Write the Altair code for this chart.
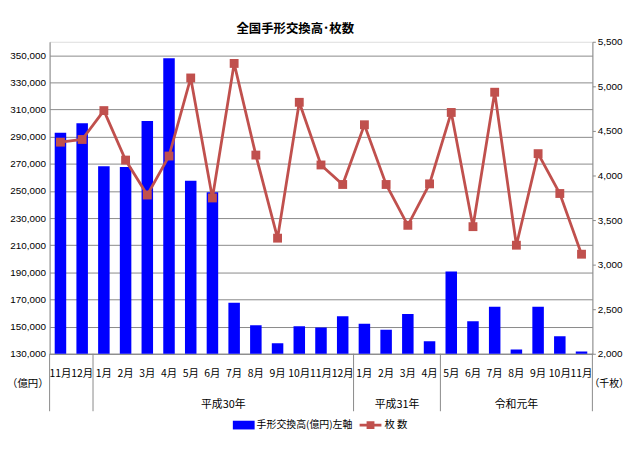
import altair as alt
import pandas as pd

# ---- data ----
months = ["11月", "12月", "1月", "2月", "3月", "4月", "5月", "6月", "7月", "8月", "9月", "10月",
          "11月", "12月", "1月", "2月", "3月", "4月", "5月", "6月", "7月", "8月", "9月", "10月", "11月"]
eras = ["平成29年"] * 2 + ["平成30年"] * 12 + ["平成31年"] * 4 + ["令和元年"] * 7
shown_eras = ["平成30年", "平成31年", "令和元年"]
amount = [293000, 300000, 268300, 267600, 301600, 347800, 257600, 249000, 167600, 151000,
          137800, 150200, 149400, 157600, 152200, 147800, 159300, 139300, 190700, 153900,
          164600, 133200, 164600, 142900, 131700]
count = [4374, 4404, 4728, 4173, 3781, 4218, 5094, 3748, 5257, 4229, 3297, 4821, 4118,
         3899, 4569, 3899, 3441, 3906, 4707, 3426, 4934, 3218, 4245, 3798, 3117]
bar_name = "手形交換高(億円)左軸"
line_name = "枚 数"
title_text = "全国手形交換高･枚数"
left_unit = "（億円）"
right_unit = "（千枚）"
left_ticks = list(range(130000, 350001, 20000))
right_ticks = list(range(2000, 5501, 500))

keys = [f"{i:02d}|{m}" for i, m in enumerate(months)]
df = pd.DataFrame({"key": keys, "amount": amount, "count": count, "era": eras})

# era group helpers
sep_start = [keys[i] for i in range(len(keys)) if i == 0 or eras[i] != eras[i - 1]]
sep_end = [keys[-1]]
yr_start, yr_mid = [], []
for e in shown_eras:
    idx = [i for i, v in enumerate(eras) if v == e]
    n = len(idx)
    if n % 2 == 0:
        yr_start.append({"key": keys[idx[n // 2]], "label": e})
    else:
        yr_mid.append({"key": keys[idx[n // 2]], "label": e})

W, H = 548, 315
JP = "Noto Sans CJK JP"
NUM = "Liberation Sans"
RED = "#C0504D"
BLUE = "#0000FF"
GRID = "#8a8a8a"

xaxis = alt.Axis(title=None, labelAngle=0, labelExpr="split(datum.value, '|')[1]",
                 labelOverlap=False, ticks=False, labelPadding=15, labelFont=JP,
                 labelFontSize=10.5, labelColor="#000", domainColor=GRID)
xscale = alt.Scale(domain=keys, paddingInner=0, paddingOuter=0)


def X(bp=None):
    kw = dict(sort=keys, scale=xscale, axis=xaxis)
    if bp is not None:
        kw["bandPosition"] = bp
    return alt.X("key:N", **kw)


base = alt.Chart(df)

bars = base.mark_bar(width=alt.RelativeBandSize(0.53), clip=True).transform_calculate(
    s=f"'{bar_name}'"
).encode(
    x=X(),
    y=alt.Y("amount:Q", scale=alt.Scale(domain=[130000, 360000], zero=False, nice=False),
            axis=alt.Axis(title=None, values=left_ticks, format=",d", ticks=False,
                          labelPadding=4, labelFont=NUM, labelFontSize=10, labelColor="#000",
                          grid=True, gridColor=GRID, domainColor=GRID)),
    color=alt.Color("s:N", scale=alt.Scale(domain=[bar_name], range=[BLUE]),
                    legend=alt.Legend(title=None, orient="none", legendX=185, legendY=376,
                                      symbolType="M-1,-0.4H1V0.4H-1Z", symbolSize=484,
                                      symbolStrokeWidth=0, symbolOpacity=1,
                                      labelFont=JP, labelFontSize=10, labelColor="#000",
                                      labelOffset=2, padding=0)),
)

yright = alt.Y("count:Q", scale=alt.Scale(domain=[2000, 5500], zero=False, nice=False),
               axis=alt.Axis(title=None, orient="right", values=right_ticks, format=",d",
                             tickSize=3, tickColor=GRID, labelPadding=2, labelFont=NUM,
                             labelFontSize=10, labelColor="#000", grid=False, domainColor=GRID))

line = base.mark_line(color=RED, strokeWidth=2.8).encode(x=X(), y=yright)
pts = base.mark_square(size=80, opacity=1).transform_calculate(s=f"'{line_name}'").encode(
    x=X(), y=yright,
    color=alt.Color("s:N", scale=alt.Scale(domain=[line_name], range=[RED]),
                    legend=alt.Legend(title=None, orient="none", legendX=313, legendY=376,
                                      symbolType="M-1,-0.12H1V0.12H-1Z M-0.36,-0.36H0.36V0.36H-0.36Z",
                                      symbolSize=484, symbolStrokeWidth=0, symbolOpacity=1,
                                      labelFont=JP, labelFontSize=10.5, labelColor="#000",
                                      labelOffset=3, padding=0)),
)
right = alt.layer(line, pts)

rules_s = alt.Chart(pd.DataFrame({"key": sep_start})).mark_rule(color=GRID, strokeWidth=1).encode(
    x=X(0), y=alt.value(H), y2=alt.value(H + 58))
rules_e = alt.Chart(pd.DataFrame({"key": sep_end})).mark_rule(color=GRID, strokeWidth=1).encode(
    x=X(1), y=alt.value(H), y2=alt.value(H + 58))

yr1 = alt.Chart(pd.DataFrame(yr_start)).mark_text(font=JP, fontSize=11, color="#000",
                                                  baseline="middle").encode(
    x=X(0), y=alt.value(H + 52), text="label:N")
yr2 = alt.Chart(pd.DataFrame(yr_mid)).mark_text(font=JP, fontSize=11, color="#000",
                                                baseline="middle").encode(
    x=X(0.5), y=alt.value(H + 52), text="label:N")

u1 = alt.Chart(pd.DataFrame({"t": [left_unit]})).mark_text(font=JP, fontSize=10.5, color="#000",
                                                         baseline="middle").encode(
    x=alt.value(-22), y=alt.value(H + 31), text="t:N")
u2 = alt.Chart(pd.DataFrame({"t": [right_unit]})).mark_text(font=JP, fontSize=10, color="#000",
                                                          baseline="middle").encode(
    x=alt.value(W + 17), y=alt.value(H + 31), text="t:N")

chart = alt.layer(bars, right, rules_s, rules_e, yr1, yr2, u1, u2).resolve_scale(
    y="independent", color="independent"
).properties(
    width=W, height=H,
    padding={"left": 42, "top": 32, "right": 40, "bottom": 90},
    autosize=alt.AutoSizeParams(type="none"),
    title=alt.TitleParams(title_text, font=JP, fontSize=12.5, fontWeight="bold", color="#000",
                          anchor="middle", dx=-26, dy=5, offset=6),
).configure_view(stroke=None).configure(background="white")

chart.save("out.html", embed_options={"renderer": "svg", "actions": False})
